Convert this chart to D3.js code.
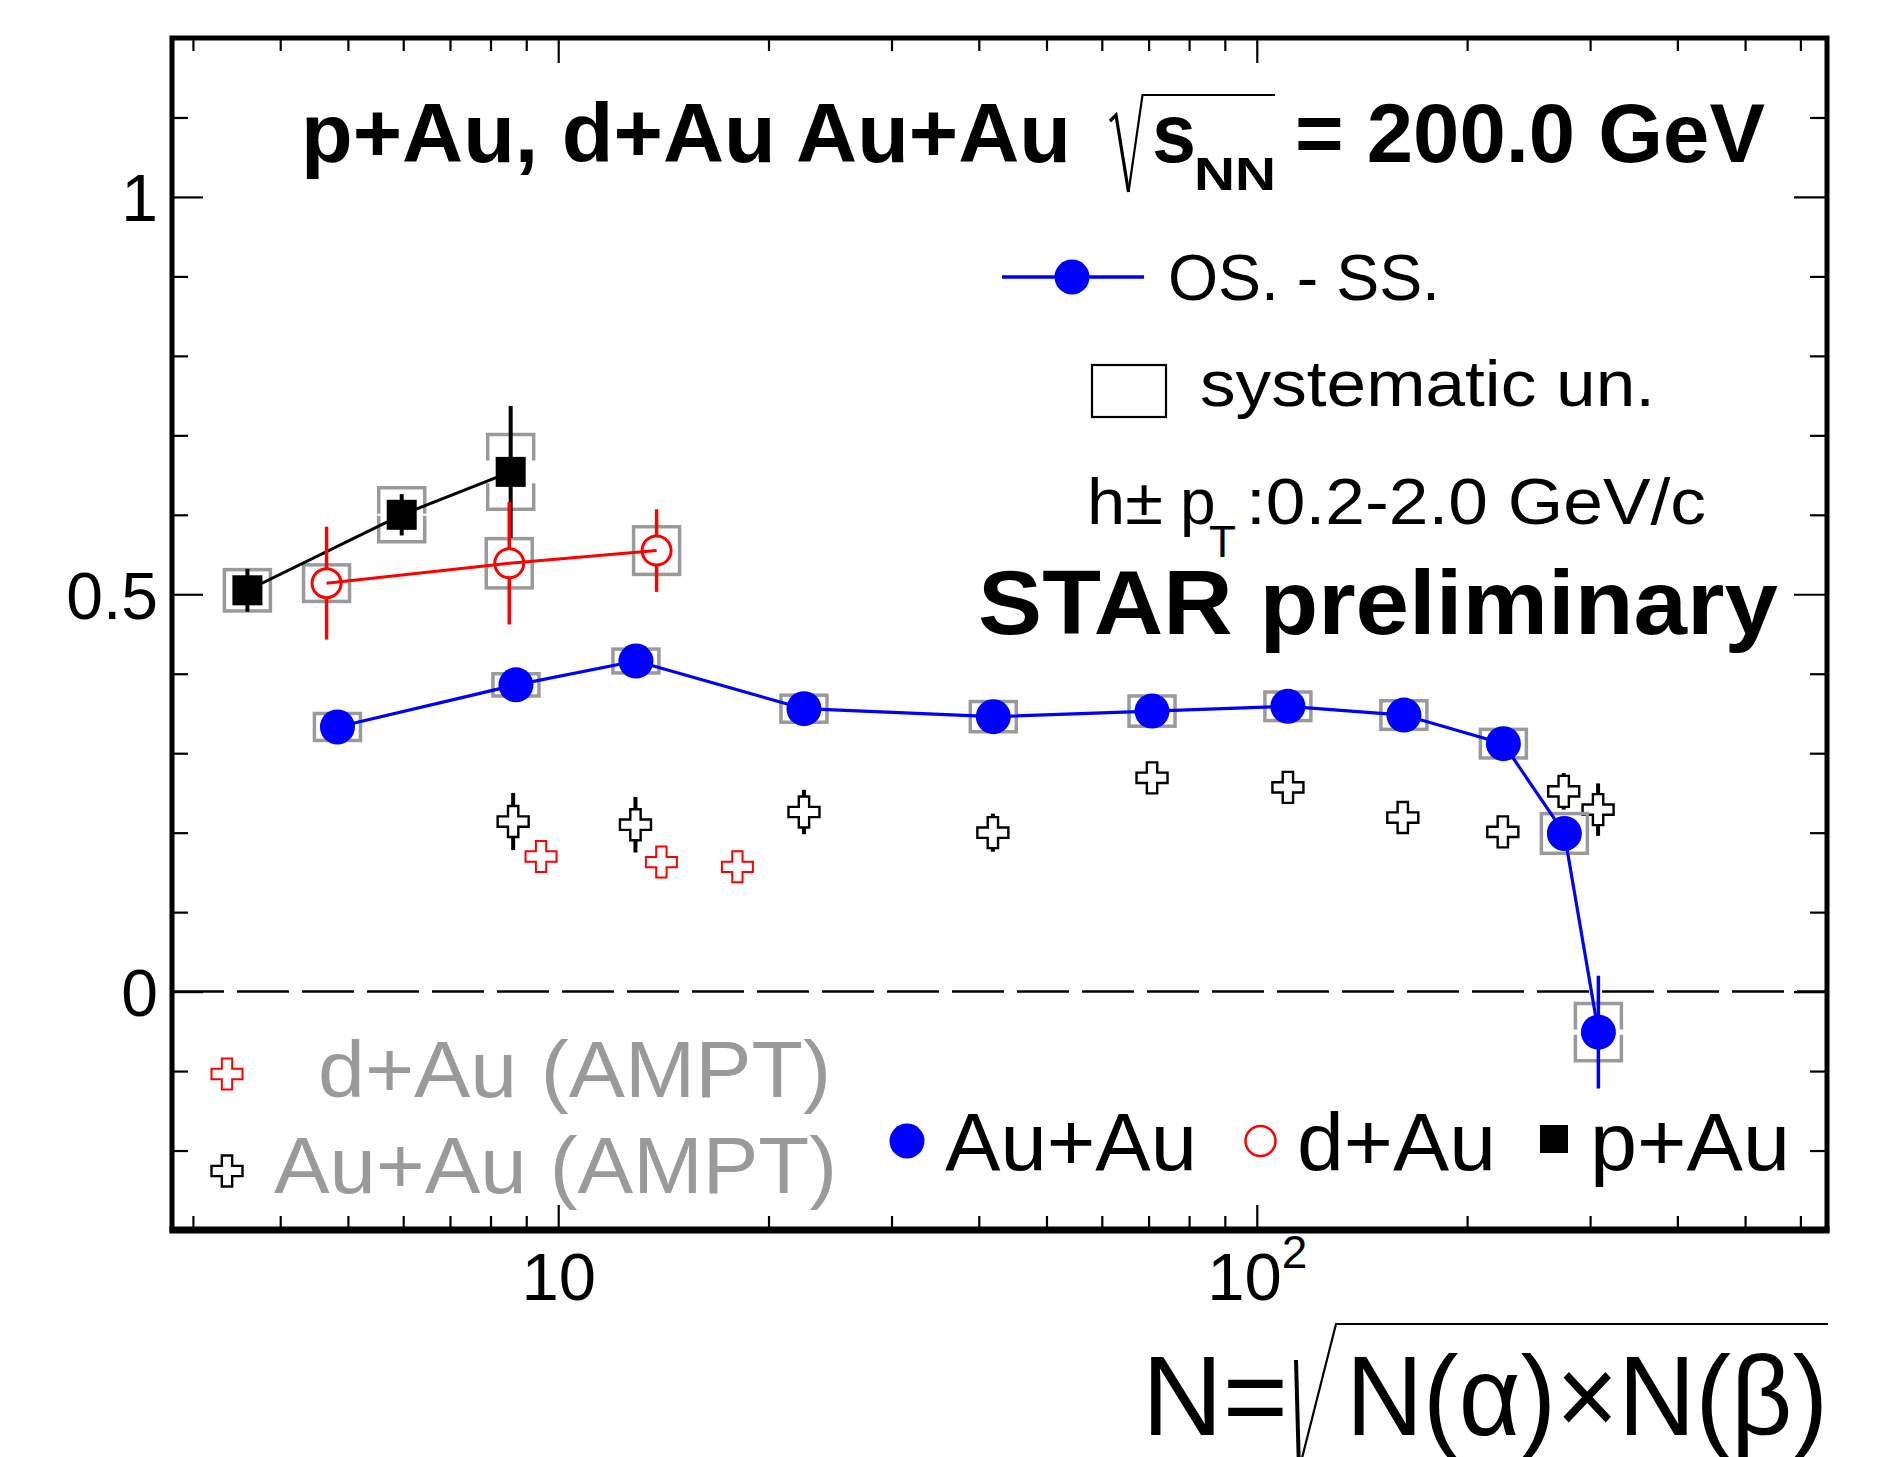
<!DOCTYPE html>
<html><head><meta charset="utf-8">
<script src="https://cdn.jsdelivr.net/npm/d3@7"></script>
<style>
body{margin:0;background:#fff}
svg{display:block}
text{font-family:"Liberation Sans",Arial,Helvetica,sans-serif}
</style>
</head><body>
<svg id="c" width="1889" height="1457"></svg>
<script>
// ---------------- data ----------------
// Au+Au (OS - SS), STAR preliminary
const auauN    = [4.83, 8.70, 12.92, 22.48, 41.96, 70.8, 110.8, 162.4, 225.4, 275.6, 308.3];
const auauVal  = [0.333, 0.386, 0.416, 0.356, 0.346, 0.353, 0.359, 0.348, 0.312, 0.199, -0.051];
const auauStat = [0.008, 0.008, 0.008, 0.008, 0.008, 0.008, 0.008, 0.008, 0.010, 0.020, 0.071];
const auauSys  = [0.017, 0.014, 0.015, 0.017, 0.019, 0.019, 0.018, 0.018, 0.018, 0.025, 0.036];
// d+Au
const dauN    = [4.66, 8.51, 13.83];
const dauVal  = [0.514, 0.539, 0.555];
const dauStat = [0.071, 0.077, 0.052];
const dauSys  = [0.023, 0.031, 0.030];
// p+Au
const pauN    = [3.59, 5.97, 8.55];
const pauVal  = [0.505, 0.600, 0.654];
const pauStat = [0.027, 0.026, 0.083];
const pauSys  = [0.026, 0.034, 0.047];
// AMPT Au+Au
const amptAuN   = [8.62, 12.90, 22.48, 41.9, 70.8, 110.8, 161.8, 225.0, 275.0, 308.0];
const amptAuVal = [0.214, 0.210, 0.226, 0.200, 0.269, 0.257, 0.219, 0.201, 0.252, 0.229];
const amptAuErr = [0.036, 0.035, 0.028, 0.024, 0.008, 0.008, 0.008, 0.008, 0.023, 0.033];
// AMPT d+Au
const amptDN   = [9.45, 14.05, 18.05];
const amptDVal = [0.170, 0.163, 0.157];
// axes
const xMajor = [10, 100];
const xMinor = [3,4,5,6,7,8,9,20,30,40,50,60,70,80,90,200,300,400,500,600];
const yMajor = [0, 0.5, 1];
const yLabels = ["0", "0.5", "1"];
const yMinor = [-0.2,-0.1,0.1,0.2,0.3,0.4,0.6,0.7,0.8,0.9,1.1];

// ---------------- layout ----------------
const X0 = 172, X1 = 1827, Y0 = 38, Y1 = 1230;
const x = d3.scaleLog().domain([2.8, 655]).range([X0, X1]);
const y = d3.scaleLinear().domain([-0.3, 1.2]).range([Y1, Y0]);
const svg = d3.select("#c");
const GRAY = "#9a9a9a";

// zero dashed line
svg.append("line").attr("x1", X0).attr("x2", X1).attr("y1", y(0)).attr("y2", y(0))
  .attr("stroke", "#000").attr("stroke-width", 2.5).attr("stroke-dasharray", "52,13");

// ---------------- axes ----------------
function styleAxis(g){
  g.select(".domain").remove();
  g.selectAll(".tick line").attr("stroke", "#000").attr("stroke-width", 2.2);
}
svg.append("g").attr("transform", `translate(${X0},0)`)
  .call(d3.axisLeft(y).tickValues(yMajor).tickSize(-31).tickPadding(14).tickFormat((d,i)=>yLabels[i]))
  .call(styleAxis)
  .call(g => g.selectAll("text").attr("font-size", 66).attr("font-family", "Liberation Sans, Arial, sans-serif").attr("fill","#000").attr("dy","0.36em"));
svg.append("g").attr("transform", `translate(${X0},0)`)
  .call(d3.axisLeft(y).tickValues(yMinor).tickSize(-16).tickFormat("")).call(styleAxis);
svg.append("g").attr("transform", `translate(${X1},0)`)
  .call(d3.axisRight(y).tickValues(yMajor).tickSize(-33).tickFormat("")).call(styleAxis);
svg.append("g").attr("transform", `translate(${X1},0)`)
  .call(d3.axisRight(y).tickValues(yMinor).tickSize(-17).tickFormat("")).call(styleAxis);

svg.append("g").attr("transform", `translate(0,${Y1})`)
  .call(d3.axisBottom(x).tickValues(xMajor).tickSize(-25).tickPadding(22).tickFormat(() => "10"))
  .call(styleAxis)
  .call(g => {
    g.selectAll("text").attr("font-size", 67).attr("font-family", "Liberation Sans, Arial, sans-serif").attr("fill","#000");
    g.selectAll(".tick").filter(d => d === 100).select("text")
      .append("tspan").attr("font-size", 46).attr("dy", -32).text("2");
  });
svg.append("g").attr("transform", `translate(0,${Y1})`)
  .call(d3.axisBottom(x).tickValues(xMinor).tickSize(-14).tickFormat("")).call(styleAxis);
svg.append("g").attr("transform", `translate(0,${Y0})`)
  .call(d3.axisTop(x).tickValues(xMajor).tickSize(-25).tickFormat("")).call(styleAxis);
svg.append("g").attr("transform", `translate(0,${Y0})`)
  .call(d3.axisTop(x).tickValues(xMinor).tickSize(-13).tickFormat("")).call(styleAxis);

// frame
svg.append("rect").attr("x", X0).attr("y", Y0).attr("width", X1 - X0).attr("height", Y1 - Y0)
  .attr("fill", "none").attr("stroke", "#000").attr("stroke-width", 5);
svg.append("line").attr("x1", X0 - 2.5).attr("x2", X1 + 2.5).attr("y1", Y1).attr("y2", Y1)
  .attr("stroke", "#000").attr("stroke-width", 7);

// ---------------- helpers ----------------
const BOXW = 46, LEG = 26;
function sysBoxes(N, V, S){
  const g = svg.append("g").attr("fill", "none").attr("stroke", GRAY).attr("stroke-width", 3.5);
  N.forEach((n, i) => {
    const cx = x(n), yt = y(V[i] + S[i]), yb = y(V[i] - S[i]);
    const l = cx - BOXW/2, r = cx + BOXW/2;
    const h = yb - yt;
    if (h <= 2*LEG) {
      g.append("rect").attr("x", l).attr("y", yt).attr("width", BOXW).attr("height", h);
    } else {
      g.append("path").attr("d",
        `M${l},${yt+LEG}L${l},${yt}L${r},${yt}L${r},${yt+LEG}` +
        `M${l},${yb-LEG}L${l},${yb}L${r},${yb}L${r},${yb-LEG}`);
    }
  });
}
function errBars(N, V, E, color, w, gap){
  const g = svg.append("g").attr("stroke", color).attr("stroke-width", w);
  N.forEach((n, i) => {
    const cx = x(n), yc = y(V[i]), yt = y(V[i] + E[i]), yb = y(V[i] - E[i]);
    if (yc - yt > gap) {
      g.append("line").attr("x1", cx).attr("x2", cx).attr("y1", yt).attr("y2", yc - gap);
      g.append("line").attr("x1", cx).attr("x2", cx).attr("y1", yc + gap).attr("y2", yb);
    }
  });
}
function linePath(N, V, color, w){
  const line = d3.line().x(i => x(N[i])).y(i => y(V[i]));
  svg.append("path").attr("d", line(d3.range(N.length)))
    .attr("fill", "none").attr("stroke", color).attr("stroke-width", w).attr("stroke-linejoin","round");
}
function crossPath(cx, cy, s){
  const h = s/2, a = s/6;
  return `M${cx-a},${cy-h}L${cx+a},${cy-h}L${cx+a},${cy-a}L${cx+h},${cy-a}L${cx+h},${cy+a}` +
         `L${cx+a},${cy+a}L${cx+a},${cy+h}L${cx-a},${cy+h}L${cx-a},${cy+a}L${cx-h},${cy+a}` +
         `L${cx-h},${cy-a}L${cx-a},${cy-a}Z`;
}
function crosses(N, V, color, w){
  const g = svg.append("g");
  N.forEach((n, i) => {
    g.append("path").attr("d", crossPath(x(n), y(V[i]), 31))
      .attr("fill", "#fff").attr("stroke", color).attr("stroke-width", w);
  });
}

// ---------------- AMPT ----------------
errBars(amptAuN, amptAuVal, amptAuErr, "#000", 4, 13);
crosses(amptAuN, amptAuVal, "#000", 2.4);
crosses(amptDN, amptDVal, "#ff0000", 2);

// ---------------- data ----------------
sysBoxes(auauN, auauVal, auauSys);
sysBoxes(dauN, dauVal, dauSys);
sysBoxes(pauN, pauVal, pauSys);

linePath(pauN, pauVal, "#000", 3);
linePath(dauN, dauVal, "#ff0000", 3);
linePath(auauN, auauVal, "#0000ff", 3.2);

errBars(pauN, pauVal, pauStat, "#000", 4, 0);
errBars(dauN, dauVal, dauStat, "#ff0000", 3.5, 15);
errBars(auauN, auauVal, auauStat, "#0000ff", 3.5, 0);

svg.append("g").selectAll("rect").data(d3.range(pauN.length)).join("rect")
  .attr("x", i => x(pauN[i]) - 15).attr("y", i => y(pauVal[i]) - 15)
  .attr("width", 30).attr("height", 30).attr("fill", "#000");
svg.append("g").selectAll("circle").data(d3.range(dauN.length)).join("circle")
  .attr("cx", i => x(dauN[i])).attr("cy", i => y(dauVal[i])).attr("r", 14.5)
  .attr("fill", "none").attr("stroke", "#ff0000").attr("stroke-width", 3);
svg.append("g").selectAll("circle").data(d3.range(auauN.length)).join("circle")
  .attr("cx", i => x(auauN[i])).attr("cy", i => y(auauVal[i])).attr("r", 17.5)
  .attr("fill", "#0000ff");

// ---------------- texts ----------------
function txt(s, xx, yy, size, opts = {}){
  const t = svg.append("text").attr("x", xx).attr("y", yy).attr("font-size", size)
    .attr("fill", opts.fill || "#000").text(s);
  if (opts.bold) t.attr("font-weight", "bold");
  if (opts.len) t.attr("textLength", opts.len).attr("lengthAdjust", "spacingAndGlyphs");
  return t;
}
// title
txt("p+Au, d+Au Au+Au", 301, 162, 84, {bold: true, len: 770});
svg.append("path").attr("d", "M1110,121L1116,115L1128.5,192").attr("fill","none").attr("stroke","#000").attr("stroke-width",3.2);
svg.append("path").attr("d", "M1128.5,192L1142.5,95L1275,95").attr("fill","none").attr("stroke","#000").attr("stroke-width",2.2);
txt("s", 1152, 162, 84, {bold: true, len: 44});
txt("NN", 1194, 190, 46, {bold: true, len: 82});
txt("= 200.0 GeV", 1295, 162, 84, {bold: true, len: 470});

// right legend
svg.append("line").attr("x1", 1002).attr("x2", 1144).attr("y1", 277).attr("y2", 277)
  .attr("stroke", "#0000ff").attr("stroke-width", 3.5);
svg.append("circle").attr("cx", 1072).attr("cy", 277).attr("r", 17.5).attr("fill", "#0000ff");
txt("OS. - SS.", 1168, 300, 64, {len: 272});
svg.append("rect").attr("x", 1092).attr("y", 365).attr("width", 74).attr("height", 52)
  .attr("fill", "none").attr("stroke", "#000").attr("stroke-width", 2.2);
txt("systematic un.", 1200, 406, 64, {len: 455});
txt("h±", 1087, 524, 64, {len: 76});
txt("p", 1180, 524, 64);
txt("T", 1209, 557, 44);
txt(":0.2-2.0 GeV/c", 1246, 524, 64, {len: 460});
txt("STAR preliminary", 978, 634, 90, {bold: true, len: 800});

// bottom legend
svg.append("path").attr("d", crossPath(227, 1074, 31)).attr("fill", "none").attr("stroke", "#ff0000").attr("stroke-width", 2);
svg.append("path").attr("d", crossPath(227, 1171, 31)).attr("fill", "none").attr("stroke", "#000").attr("stroke-width", 2.4);
txt("d+Au (AMPT)", 318, 1097, 80, {fill: GRAY, len: 513});
txt("Au+Au (AMPT)", 274, 1193, 80, {fill: GRAY, len: 563});
svg.append("circle").attr("cx", 907).attr("cy", 1141).attr("r", 17.5).attr("fill", "#0000ff");
txt("Au+Au", 945, 1170, 81, {len: 252});
svg.append("circle").attr("cx", 1260.5).attr("cy", 1141).attr("r", 15).attr("fill", "none").attr("stroke", "#ff0000").attr("stroke-width", 2.5);
txt("d+Au", 1297, 1170, 81, {len: 199});
svg.append("rect").attr("x", 1540).attr("y", 1125).attr("width", 28).attr("height", 28).attr("fill", "#000");
txt("p+Au", 1590, 1170, 81, {len: 200});

// x-axis title
txt("N=", 1142, 1435, 114, {len: 146});
svg.append("line").attr("x1", 1296).attr("x2", 1299).attr("y1", 1360).attr("y2", 1470).attr("stroke", "#000").attr("stroke-width", 4);
svg.append("path").attr("d", "M1299,1470L1336,1324L1828,1324").attr("fill", "none").attr("stroke", "#000").attr("stroke-width", 2.2);
txt("N(α)×N(β)", 1346, 1435, 114, {len: 482});
</script>
</body></html>
